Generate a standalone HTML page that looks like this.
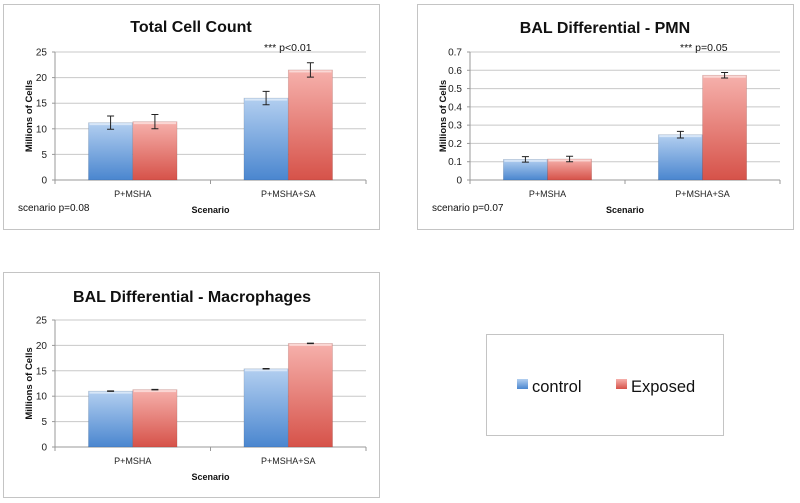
<!DOCTYPE html>
<html><head><meta charset="utf-8"><style>
body{margin:0;background:#fff;width:800px;height:503px;overflow:hidden;font-family:"Liberation Sans",sans-serif}
svg{display:block}
</style></head><body>
<svg id="s" width="800" height="503" xmlns="http://www.w3.org/2000/svg">
<defs>
<linearGradient id="gb" x1="0" y1="0" x2="0" y2="1"><stop offset="0" stop-color="#b3cff0"/><stop offset="1" stop-color="#4a86cf"/></linearGradient>
<linearGradient id="gr" x1="0" y1="0" x2="0" y2="1"><stop offset="0" stop-color="#f6b1ac"/><stop offset="1" stop-color="#d65249"/></linearGradient>
</defs>
<g>
<rect x="486.5" y="334.5" width="237" height="101" fill="#fff" stroke="#c4c4c4"/>
<rect x="517" y="379" width="11" height="10" fill="url(#gb)"/>
<text x="532" y="392" font-size="16.5" fill="#111">control</text>
<rect x="616" y="379" width="11" height="10" fill="url(#gr)"/>
<text x="631" y="392" font-size="16.5" fill="#111">Exposed</text>
</g>
</svg>
<script>
const categories=["P+MSHA","P+MSHA+SA"];
const totalControl=[11.2,16.0];
const totalExposed=[11.4,21.5];
const totalControlErr=[1.3,1.3];
const totalExposedErr=[1.4,1.4];
const totalTicks=[0,5,10,15,20,25];
const pmnControl=[0.113,0.248];
const pmnExposed=[0.115,0.573];
const pmnControlErr=[0.015,0.018];
const pmnExposedErr=[0.015,0.015];
const pmnTicks=[0,0.1,0.2,0.3,0.4,0.5,0.6,0.7];
const macControl=[11.0,15.4];
const macExposed=[11.3,20.4];
const macControlErr=[0.05,0.05];
const macExposedErr=[0.05,0.05];
const macTicks=[0,5,10,15,20,25];

const NS="http://www.w3.org/2000/svg";
const svg=document.getElementById('s');
function el(tag,attrs,parent,text){const e=document.createElementNS(NS,tag);for(const k in attrs)e.setAttribute(k,attrs[k]);if(text!==undefined)e.textContent=text;(parent||svg).appendChild(e);return e;}

function chart(o){
  const g=el('g',{});
  
  
  const fr=el('rect',{x:o.bx+0.5,y:o.by+0.5,width:o.bw,height:o.bh,fill:'#fff',stroke:'#c4c4c4'},g);
  
  
  const t=el('text',{x:o.tx,y:o.ty,'font-size':16,'font-weight':'bold','text-anchor':'middle',fill:'#111'},g,o.title);
  
  
  const max=o.ticks[o.ticks.length-1];
  const y=v=>o.y0-(v/max)*(o.y0-o.y1);
  const L=o.x0,R=o.x1,cw=(R-L)/categories.length;
  o.ticks.forEach(v=>{
    if(v>0){const gl=el('line',{x1:L,x2:R,y1:y(v),y2:y(v),stroke:'#c8c8c8'},g);
      
      }
    const tl=el('text',{x:L-8,y:y(v)+3.5,'font-size':10,'text-anchor':'end',fill:'#222'},g,String(v));
    
    
    el('line',{x1:L-3,x2:L,y1:y(v),y2:y(v),stroke:'#999'},g);
  });
  el('line',{x1:L,x2:L,y1:o.y1,y2:o.y0,stroke:'#999'},g);
  el('line',{x1:L,x2:R,y1:o.y0,y2:o.y0,stroke:'#999'},g);
  for(let i=0;i<=categories.length;i++)el('line',{x1:L+i*cw,x2:L+i*cw,y1:o.y0,y2:o.y0+4,stroke:'#999'},g);
  const bw=cw*0.285;
  categories.forEach((c,i)=>{
    const cx=L+cw*(i+0.5);
    [[o.c,o.ce,'url(#gb)','control',-1],[o.e,o.ee,'url(#gr)','exposed',0]].forEach(([vals,errs,fill,nm,off])=>{
      const x=cx+off*bw, v=vals[i];
      const b=el('rect',{x:x,y:y(v),width:bw,height:o.y0-y(v),fill:fill,stroke:'rgba(0,0,0,0.15)','stroke-width':0.6},g);
      
      
      el('rect',{x:x+1,y:y(v)+0.5,width:bw-2,height:2,fill:'rgba(255,255,255,0.5)'},g);
      const m=x+bw/2,hi=y(v+errs[i]),lo=y(v-errs[i]);
      const eb=el('path',{d:`M${m},${hi}V${lo}M${m-3.5},${hi}H${m+3.5}M${m-3.5},${lo}H${m+3.5}`,stroke:'#222','stroke-width':1,fill:'none'},g);
      
      
    });
    const cl=el('text',{x:cx,y:o.y0+17,'font-size':9,'text-anchor':'middle',fill:'#222'},g,c);
    
    
  });
  const xt=el('text',{x:(L+R)/2,y:o.y0+33,'font-size':9,'font-weight':'bold','text-anchor':'middle',fill:'#111'},g,'Scenario');
  
  
  const yx=o.bx+29, yy=(o.y0+o.y1)/2;
  const yt=el('text',{x:yx,y:yy,'font-size':9.5,'font-weight':'bold','text-anchor':'middle',fill:'#111',transform:`rotate(-90 ${yx} ${yy})`},g,'Millions of Cells');
  
  
  if(o.note){const n=el('text',{x:o.bx+15,y:o.y0+31,'font-size':10,fill:'#111'},g,o.note);
    
    }
  if(o.sig){const s=el('text',{x:o.sigx,y:o.y1-1,'font-size':10.5,fill:'#111'},g,o.sig);
    
    }
}
chart({name:'total-cell-count-chart',bx:3,by:4,bw:376,bh:225,tx:191,ty:32,title:'Total Cell Count',x0:55,x1:366,y0:180,y1:52,ticks:totalTicks,c:totalControl,e:totalExposed,ce:totalControlErr,ee:totalExposedErr,note:'scenario p=0.08',sig:'*** p<0.01',sigx:264});
chart({name:'pmn-chart',bx:417,by:4,bw:376,bh:225,tx:605,ty:33,title:'BAL Differential - PMN',x0:470,x1:780,y0:180,y1:52,ticks:pmnTicks,c:pmnControl,e:pmnExposed,ce:pmnControlErr,ee:pmnExposedErr,note:'scenario p=0.07',sig:'*** p=0.05',sigx:680});
chart({name:'macrophages-chart',bx:3,by:272,bw:376,bh:225,tx:192,ty:302,title:'BAL Differential - Macrophages',x0:55,x1:366,y0:447,y1:320,ticks:macTicks,c:macControl,e:macExposed,ce:macControlErr,ee:macExposedErr});
</script>
</body></html>
